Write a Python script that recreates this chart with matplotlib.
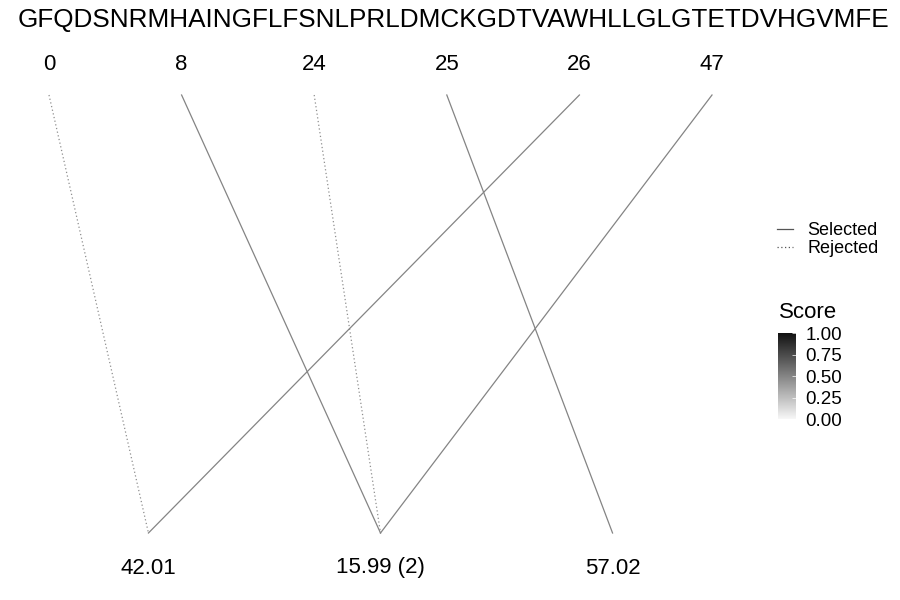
import numpy as np
import matplotlib
matplotlib.use("Agg")
import matplotlib.pyplot as plt
from matplotlib.colors import LinearSegmentedColormap
from matplotlib.lines import Line2D

plt.rcParams['font.family'] = ['Liberation Sans', 'DejaVu Sans']

sequence = "GFQDSNRMHAINGFLFSNLPRLDMCKGDTVAWHLLGLGTETDVHGVMFE"
top_labels = ["0", "8", "24", "25", "26", "47"]
bottom_labels = ["42.01", "15.99 (2)", "57.02"]
# links: (top index, bottom index, selected, score)
link_top = [0, 1, 2, 3, 4, 5]
link_bottom = [0, 1, 1, 2, 0, 1]
link_selected = [False, True, False, True, True, True]
link_score = [0.45, 0.5, 0.45, 0.5, 0.5, 0.5]

cmap = LinearSegmentedColormap.from_list("score", ["#f7f7f7", "#111111"])

fig = plt.figure(figsize=(9, 6), dpi=100)
ax = fig.add_axes([0, 0, 1, 1])
ax.set_xlim(-49 / 132.6, (900 - 49) / 132.6)
ax.set_ylim(-67 / 438, 1 + 95 / 438)
ax.axis("off")

top_x = np.arange(len(top_labels))
bottom_x = 0.75 + 1.75 * np.arange(len(bottom_labels))

for t, b, sel, s in zip(link_top, link_bottom, link_selected, link_score):
    ax.plot([top_x[t], bottom_x[b]], [1, 0], color=cmap(s), lw=0.9,
            linestyle="-" if sel else (0, (1, 2)))

for x, lab in zip(top_x, top_labels):
    ax.text(x, 1 + 31 / 438, lab, ha="center", va="center", fontsize=16)
for x, lab in zip(bottom_x, bottom_labels):
    ax.text(x, -35 / 438, lab, ha="center", va="center", fontsize=16)

fig.text(0.5035, 1 - 20 / 600, sequence, ha="center", va="center", fontsize=18.8)

# linetype legend
handles = [Line2D([], [], color="#555555", lw=0.9, linestyle="-"),
           Line2D([], [], color="#555555", lw=0.9, linestyle=(0, (1, 2)))]
fig.legend(handles, ["Selected", "Rejected"], loc="upper left",
           bbox_to_anchor=(777 / 900, 1 - 222 / 600), frameon=False,
           fontsize=13, handlelength=0.9, handletextpad=0.8,
           labelspacing=0.05, borderpad=0, borderaxespad=0)

# score colourbar
fig.text(779 / 900, 1 - 312 / 600, "Score", ha="left", va="center", fontsize=16)
cax = fig.add_axes([778 / 900, 1 - 419 / 600, 18 / 900, 86 / 600])
sm = plt.cm.ScalarMappable(cmap=cmap, norm=plt.Normalize(0, 1))
cb = fig.colorbar(sm, cax=cax, ticks=[0, 0.25, 0.5, 0.75, 1.0])
cb.ax.set_yticklabels(["0.00", "0.25", "0.50", "0.75", "1.00"], fontsize=13.5)
cb.outline.set_visible(False)
cb.ax.tick_params(length=3, width=0.5, color="white", direction="in", pad=7)

fig.savefig("out.png", dpi=100)
